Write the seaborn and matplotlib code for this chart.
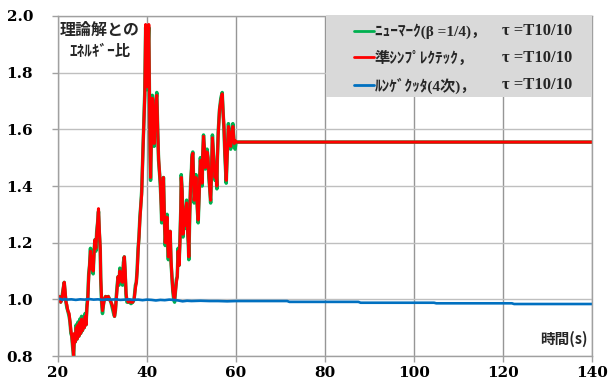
import matplotlib
matplotlib.use("Agg")
import matplotlib.pyplot as plt
from matplotlib.patches import Rectangle
import seaborn as sns
import pandas as pd

# ---------------- data ----------------
t_sym = [20.0, 20.3, 20.6, 20.9, 21.2, 21.4, 21.6, 21.8, 22.0, 22.2, 22.5, 22.7, 22.9, 23.1, 23.3, 23.5,
         23.7, 23.9, 24.1, 24.3, 24.5, 24.7, 24.9, 25.1, 25.3, 25.5, 25.7, 25.9, 26.1, 26.3, 26.5, 26.7,
         26.9, 27.1, 27.3, 27.5, 27.7, 27.9, 28.1, 28.3, 28.5, 28.7, 28.9, 29.1, 29.3, 29.5, 29.6, 29.8,
         30.0, 30.2, 30.4, 30.7, 31.0, 31.3, 31.6, 31.9, 32.2, 32.5, 32.7, 32.9, 33.1, 33.3, 33.5, 33.7,
         33.9, 34.1, 34.3, 34.5, 34.7, 34.9, 35.1, 35.3, 35.5, 35.8, 36.1, 36.4, 36.8, 37.1, 37.4, 37.6,
         37.8, 38.0, 38.2, 38.4, 38.6, 38.8, 39.0, 39.1, 39.3, 39.5, 39.6, 39.7, 39.8, 39.9, 40.0, 40.1,
         40.2, 40.3, 40.4, 40.5, 40.6, 40.7, 40.8, 41.0, 41.2, 41.4, 41.6, 41.8, 42.0, 42.2, 42.4, 42.6,
         42.8, 43.0, 43.2, 43.3, 43.5, 43.7, 43.9, 44.1, 44.3, 44.5, 44.7, 44.8, 45.0, 45.2, 45.4, 45.6,
         45.8, 46.0, 46.2, 46.4, 46.6, 46.8, 47.0, 47.2, 47.4, 47.6, 47.7, 47.9, 48.1, 48.3, 48.5, 48.7,
         48.9, 49.1, 49.3, 49.4, 49.6, 49.8, 50.0, 50.1, 50.3, 50.5, 50.6, 50.8, 51.0, 51.1, 51.3, 51.5,
         51.7, 52.0, 52.2, 52.4, 52.5, 52.7, 52.9, 53.1, 53.3, 53.5, 53.7, 53.9, 54.1, 54.3, 54.5, 54.7,
         54.9, 55.1, 55.3, 55.5, 55.7, 55.8, 56.0, 56.3, 56.6, 56.9, 57.1, 57.3, 57.5, 57.8, 58.0, 58.3,
         58.5, 58.8, 59.0, 59.3, 59.6, 59.8, 60.0, 80.0, 100.0, 120.0, 140.0]

quasi_symplectic = [1.00, 1.01, 0.99, 1.00, 1.04, 1.06, 1.03, 0.99, 0.98, 0.96, 0.95, 0.92, 0.89, 0.87, 0.84, 0.80,
                    0.88, 0.85, 0.90, 0.86, 0.91, 0.87, 0.92, 0.88, 0.93, 0.89, 0.92, 0.90, 0.94, 0.91, 0.97, 1.00,
                    1.08, 1.12, 1.17, 1.11, 1.15, 1.10, 1.16, 1.21, 1.18, 1.23, 1.27, 1.32, 1.24, 1.18, 1.08, 1.00,
                    0.96, 0.98, 1.00, 1.01, 1.00, 1.01, 1.00, 0.99, 0.98, 0.96, 0.94, 0.96, 1.00, 1.04, 1.08, 1.06,
                    1.10, 1.07, 1.09, 1.06, 1.12, 1.15, 1.10, 1.02, 1.00, 0.99, 0.995, 0.99, 0.99, 1.00, 1.04, 1.06,
                    1.10, 1.17, 1.22, 1.28, 1.33, 1.37, 1.48, 1.53, 1.62, 1.72, 1.85, 1.97, 1.90, 1.82, 1.75, 1.78,
                    1.85, 1.92, 1.97, 1.80, 1.65, 1.52, 1.43, 1.58, 1.71, 1.62, 1.55, 1.64, 1.70, 1.72, 1.60, 1.50,
                    1.45, 1.41, 1.33, 1.28, 1.36, 1.43, 1.30, 1.20, 1.25, 1.29, 1.18, 1.15, 1.20, 1.24, 1.14, 1.08,
                    1.035, 1.01, 1.00, 1.03, 1.06, 1.08, 1.17, 1.12, 1.20, 1.32, 1.43, 1.38, 1.23, 1.30, 1.26, 1.32,
                    1.34, 1.25, 1.20, 1.15, 1.30, 1.40, 1.46, 1.50, 1.515, 1.40, 1.35, 1.38, 1.43, 1.40, 1.33, 1.28,
                    1.36, 1.49, 1.44, 1.41, 1.50, 1.575, 1.53, 1.465, 1.49, 1.52, 1.50, 1.44, 1.39, 1.35, 1.45, 1.57,
                    1.52, 1.47, 1.43, 1.46, 1.40, 1.49, 1.58, 1.67, 1.70, 1.725, 1.66, 1.61, 1.52, 1.42, 1.50, 1.61,
                    1.58, 1.54, 1.58, 1.61, 1.55, 1.56, 1.555, 1.555, 1.555, 1.555, 1.555]

t_nm = [20.0, 20.3, 20.6, 20.9, 21.2, 21.4, 21.6, 21.8, 22.0, 22.2, 22.5, 22.7, 22.9, 23.1, 23.3, 23.5,
        23.7, 23.9, 24.1, 24.3, 24.5, 24.7, 24.9, 25.1, 25.3, 25.5, 25.7, 25.9, 26.1, 26.3, 26.5, 26.7,
        26.9, 27.1, 27.3, 27.5, 27.7, 27.9, 28.1, 28.3, 28.5, 28.7, 28.9, 29.1, 29.3, 29.5, 29.6, 29.8,
        30.0, 30.2, 30.4, 30.7, 31.0, 31.3, 31.6, 31.9, 32.2, 32.5, 32.7, 32.9, 33.1, 33.3, 33.5, 33.7,
        33.9, 34.1, 34.3, 34.5, 34.7, 34.9, 35.1, 35.3, 35.5, 35.8, 36.1, 36.4, 36.8, 37.1, 37.4, 37.6,
        37.8, 38.0, 38.2, 38.4, 38.6, 38.8, 39.0, 39.1, 39.3, 39.5, 39.6, 39.7, 39.8, 39.9, 40.0, 40.1,
        40.2, 40.3, 40.4, 40.5, 40.6, 40.7, 40.8, 41.0, 41.2, 41.4, 41.6, 41.8, 42.0, 42.2, 42.4, 42.6,
        42.8, 43.0, 43.2, 43.3, 43.5, 43.7, 43.9, 44.1, 44.3, 44.5, 44.7, 44.8, 45.0, 45.2, 45.4, 45.6,
        45.8, 46.0, 46.2, 46.4, 46.6, 46.8, 47.0, 47.2, 47.4, 47.6, 47.7, 47.9, 48.1, 48.3, 48.5, 48.7,
        48.9, 49.1, 49.3, 49.4, 49.6, 49.8, 50.0, 50.1, 50.3, 50.5, 50.6, 50.8, 51.0, 51.1, 51.3, 51.5,
        51.7, 52.0, 52.2, 52.4, 52.5, 52.7, 52.9, 53.1, 53.3, 53.5, 53.7, 53.9, 54.1, 54.3, 54.5, 54.7,
        54.9, 55.1, 55.3, 55.5, 55.7, 55.8, 56.0, 56.3, 56.6, 56.9, 57.1, 57.3, 57.5, 57.8, 58.0, 58.3,
        58.5, 58.8, 59.0, 59.3, 59.6, 59.8, 60.0, 80.0, 100.0, 120.0, 140.0]

newmark = [1.00, 1.01, 0.99, 1.01, 1.04, 1.06, 1.02, 0.99, 0.97, 0.96, 0.94, 0.92, 0.88, 0.87, 0.83, 0.80,
           0.87, 0.85, 0.91, 0.86, 0.92, 0.87, 0.93, 0.88, 0.94, 0.89, 0.93, 0.90, 0.95, 0.91, 0.98, 1.01,
           1.09, 1.12, 1.18, 1.11, 1.16, 1.09, 1.17, 1.21, 1.17, 1.24, 1.27, 1.31, 1.23, 1.17, 1.07, 0.99,
           0.95, 0.98, 1.00, 1.01, 1.00, 1.01, 1.00, 0.99, 0.97, 0.95, 0.94, 0.96, 1.01, 1.05, 1.08, 1.05,
           1.11, 1.07, 1.09, 1.05, 1.13, 1.15, 1.09, 1.01, 0.99, 0.99, 0.99, 0.985, 0.99, 1.00, 1.05, 1.06,
           1.11, 1.18, 1.22, 1.29, 1.33, 1.38, 1.48, 1.54, 1.62, 1.73, 1.86, 1.96, 1.89, 1.81, 1.74, 1.78,
           1.86, 1.92, 1.96, 1.79, 1.64, 1.51, 1.42, 1.58, 1.72, 1.62, 1.54, 1.65, 1.70, 1.73, 1.60, 1.49,
           1.45, 1.40, 1.33, 1.27, 1.37, 1.43, 1.29, 1.19, 1.25, 1.30, 1.17, 1.14, 1.21, 1.24, 1.13, 1.08,
           1.03, 1.00, 0.99, 1.03, 1.07, 1.08, 1.18, 1.12, 1.21, 1.32, 1.44, 1.38, 1.22, 1.30, 1.25, 1.32,
           1.35, 1.25, 1.19, 1.14, 1.30, 1.41, 1.46, 1.51, 1.52, 1.40, 1.34, 1.38, 1.44, 1.40, 1.32, 1.27,
           1.36, 1.50, 1.44, 1.40, 1.50, 1.58, 1.53, 1.46, 1.49, 1.53, 1.50, 1.43, 1.39, 1.34, 1.45, 1.58,
           1.52, 1.46, 1.42, 1.46, 1.39, 1.49, 1.59, 1.67, 1.71, 1.73, 1.66, 1.60, 1.51, 1.41, 1.50, 1.62,
           1.58, 1.53, 1.58, 1.62, 1.54, 1.53, 1.555, 1.555, 1.555, 1.555, 1.555]

t_rk = [20.0, 20.5, 21.0, 21.5, 22.0, 23.0, 24.0, 25.0, 26.0, 27.0, 28.0, 29.0, 30.0, 31.0, 32.0, 33.0,
        34.0, 35.0, 36.0, 37.0, 38.0, 39.0, 40.0, 41.0, 42.0, 43.0, 44.0, 45.0, 46.0, 47.0, 48.0, 49.0,
        50.0, 52.0, 54.0, 56.0, 58.0, 60.0, 71.5, 72.0, 87.5, 88.0, 104.5, 105.0, 122.0, 122.5, 140.0]
runge_kutta = [1.000, 1.002, 0.998, 1.001, 0.999, 1.000, 0.998, 1.000, 0.999, 1.001, 0.999, 1.000, 0.998, 1.000,
               0.999, 1.000, 0.998, 0.999, 1.000, 0.998, 0.999, 0.997, 0.999, 0.998, 0.996, 0.998, 0.997, 0.999,
               0.998, 0.996, 0.993, 0.995, 0.994, 0.995, 0.994, 0.994, 0.993, 0.994, 0.994, 0.991, 0.991, 0.988,
               0.988, 0.986, 0.986, 0.9835, 0.9835]

labels = ["ﾆｭｰﾏｰｸ(β =1/4)，", "準ｼﾝﾌﾟﾚｸﾃｯｸ，", "ﾙﾝｹﾞｸｯﾀ(4次)，"]
tau_label = "τ =T10/10"
x_ticks = [20, 40, 60, 80, 100, 120, 140]
y_ticks = [0.8, 1.0, 1.2, 1.4, 1.6, 1.8, 2.0]
ylabel_text = "理論解との"
ylabel_text2 = "ｴﾈﾙｷﾞｰ比"
xlabel_text = "時間(s)"

# ---------------- style ----------------
sns.set_theme(style="white")
FAM = ["DejaVu Serif", "Noto Sans CJK JP"]
LFAM = ["Liberation Serif", "Noto Sans CJK JP"]
plt.rcParams["font.family"] = FAM
plt.rcParams["font.weight"] = "bold"

W, H = 608, 385
fig = plt.figure(figsize=(6.08, 3.85), dpi=100)
ax = fig.add_axes([58 / W, 1 - 356 / H, (592 - 58) / W, (356 - 16) / H])

df_nm = pd.DataFrame({"t": t_nm, "v": newmark})
df_qs = pd.DataFrame({"t": t_sym, "v": quasi_symplectic})
df_rk = pd.DataFrame({"t": t_rk, "v": runge_kutta})

sns.lineplot(data=df_nm, x="t", y="v", ax=ax, color="#00B050", linewidth=2.5,
             estimator=None, sort=False, label=labels[0])
sns.lineplot(data=df_qs, x="t", y="v", ax=ax, color="#FF0000", linewidth=2.2,
             estimator=None, sort=False, label=labels[1])
sns.lineplot(data=df_rk, x="t", y="v", ax=ax, color="#0070C0", linewidth=1.9,
             estimator=None, sort=False, label=labels[2])

ax.set_xlim(20, 140)
ax.set_ylim(0.8, 2.0)
ax.set_xticks(x_ticks)
ax.set_yticks(y_ticks)
ax.set_xticklabels([str(v) for v in x_ticks])
ax.set_yticklabels([f"{v:.1f}" for v in y_ticks])
ax.set_xlabel("")
ax.set_ylabel("")

ax.grid(True, axis="y", color="#bfbfbf", linewidth=1.0)
ax.grid(True, axis="x", color="#969696", linewidth=1.0)
ax.set_axisbelow(True)
for s in ax.spines.values():
    s.set_color("#a0a0a0")
    s.set_linewidth(1.0)
ax.tick_params(axis="both", which="major", length=4, width=1.0, color="#a0a0a0",
               labelsize=11, labelcolor="black")
ax.tick_params(axis="y", pad=14)
ax.tick_params(axis="x", pad=3)
ax.tick_params(bottom=True, left=True)

ax.text(0.003, 0.958, ylabel_text, transform=ax.transAxes, fontsize=11.5,
        fontweight="bold", va="center", ha="left", family=["Noto Sans CJK JP"])
ax.text(0.022, 0.897, ylabel_text2, transform=ax.transAxes, fontsize=11,
        fontweight="bold", va="center", ha="left", family=["Noto Sans CJK JP"])
ax.text(0.992, 0.05, xlabel_text, transform=ax.transAxes, fontsize=10.5,
        fontweight="bold", va="center", ha="right", family=["Noto Sans CJK JP", "DejaVu Serif"])

# legend background box
box = Rectangle((0.502, 0.762), 0.498, 0.241, transform=ax.transAxes, facecolor="#d9d9d9",
                edgecolor="none", zorder=4.5, clip_on=False)
ax.add_patch(box)

leg = ax.legend(loc="upper left", bbox_to_anchor=((346 - 58) / 534, 1.0),
                frameon=False, fontsize=11, handlelength=1.3, handletextpad=0.1,
                labelspacing=0.75, borderpad=0.5, borderaxespad=0.0,
                prop={"family": LFAM, "weight": "bold", "size": 11})
leg.set_zorder(5)
for line in leg.get_lines():
    line.set_linewidth(2.0)

fig.canvas.draw()
renderer = fig.canvas.get_renderer()
for txt in leg.get_texts():
    bb = txt.get_window_extent(renderer)
    yc = (bb.y0 + bb.y1) / 2
    fig.text(502 / W, yc / fig.bbox.height, tau_label, fontsize=12, fontweight="bold",
             va="center", ha="left", family=LFAM, zorder=6)

fig.savefig("out.png", dpi=100)
